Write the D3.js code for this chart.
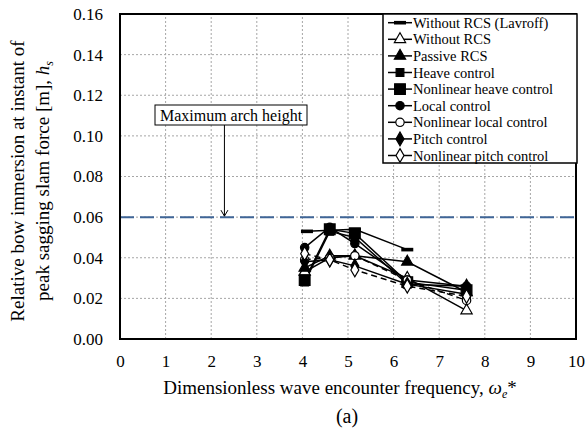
<!DOCTYPE html>
<html>
<head>
<meta charset="utf-8">
<script src="https://cdn.jsdelivr.net/npm/d3@7"></script>
<style>
  body { margin: 0; background: #fff; }
  svg text { font-family: "Liberation Serif", "Times New Roman", serif; fill: #000; }
</style>
</head>
<body>
<div id="chart"></div>
<script>
// data
var freqs = [4.05, 4.6, 5.15, 6.3, 7.6];
var lavroffFreqs = [4.1, 5.15, 6.3];
var lavroff = [0.053, 0.054, 0.044];
var withoutRCS = [0.033, 0.040, 0.041, 0.030, 0.014];
var passiveRCS = [0.035, 0.041, 0.041, 0.038, 0.023];
var heaveControl = [0.028, 0.053, 0.050, 0.027, 0.022];
var nlHeaveControl = [0.029, 0.054, 0.052, 0.028, 0.024];
var localControl = [0.045, 0.055, 0.047, 0.029, 0.026];
var nlLocalControl = [0.039, 0.040, 0.041, 0.029, 0.019];
var pitchControl = [0.038, 0.039, 0.036, 0.027, 0.026];
var nlPitchControl = [0.042, 0.039, 0.034, 0.026, 0.021];
var archHeight = 0.06;
var xTicks = [0, 1, 2, 3, 4, 5, 6, 7, 8, 9, 10];
var yTicks = [0, 0.02, 0.04, 0.06, 0.08, 0.10, 0.12, 0.14, 0.16];

var series = [
  { name: "Without RCS (Lavroff)", x: lavroffFreqs, y: lavroff, shape: "bar", fill: "#000", dash: null },
  { name: "Without RCS", x: freqs, y: withoutRCS, shape: d3.symbolTriangle, size: 55, fill: "#fff", dash: null },
  { name: "Passive RCS", x: freqs, y: passiveRCS, shape: d3.symbolTriangle, size: 55, fill: "#000", dash: null },
  { name: "Heave control", x: freqs, y: heaveControl, shape: d3.symbolSquare, size: 60, fill: "#000", dash: null },
  { name: "Nonlinear heave control", x: freqs, y: nlHeaveControl, shape: d3.symbolSquare, size: 115, fill: "#000", dash: null },
  { name: "Local control", x: freqs, y: localControl, shape: d3.symbolCircle, size: 55, fill: "#000", dash: null },
  { name: "Nonlinear local control", x: freqs, y: nlLocalControl, shape: d3.symbolCircle, size: 55, fill: "#fff", dash: "6,4" },
  { name: "Pitch control", x: freqs, y: pitchControl, shape: d3.symbolDiamond, size: 55, fill: "#000", dash: null },
  { name: "Nonlinear pitch control", x: freqs, y: nlPitchControl, shape: d3.symbolDiamond, size: 55, fill: "#fff", dash: "6,4" }
];

var width = 587, height = 434;
var margin = { top: 14, right: 11, bottom: 95, left: 120 };
var iw = width - margin.left - margin.right;
var ih = height - margin.top - margin.bottom;

var svg = d3.select("#chart").append("svg")
  .attr("width", width)
  .attr("height", height);

var x = d3.scaleLinear().domain([0, 10]).range([margin.left, margin.left + iw]);
var y = d3.scaleLinear().domain([0, 0.16]).range([margin.top + ih, margin.top]);

// grid
svg.append("g").selectAll("line.vg")
  .data(xTicks.slice(1, -1))
  .enter().append("line")
  .attr("x1", function(d) { return x(d); })
  .attr("x2", function(d) { return x(d); })
  .attr("y1", y(0)).attr("y2", y(0.16))
  .attr("stroke", "#a6a6a6").attr("stroke-width", 1).attr("stroke-dasharray", "2,2");

svg.append("g").selectAll("line.hg")
  .data(yTicks.slice(1, -1))
  .enter().append("line")
  .attr("y1", function(d) { return y(d); })
  .attr("y2", function(d) { return y(d); })
  .attr("x1", x(0)).attr("x2", x(10))
  .attr("stroke", "#a6a6a6").attr("stroke-width", 1).attr("stroke-dasharray", "2,2");

// axes
var xAxis = svg.append("g")
  .attr("transform", "translate(0," + y(0) + ")")
  .call(d3.axisBottom(x).tickValues(xTicks).tickSize(0).tickPadding(16));
xAxis.attr("font-family", null).attr("font-size", null);
xAxis.select(".domain").remove();
xAxis.selectAll("text").style("font-size", "17px");

var yAxis = svg.append("g")
  .attr("transform", "translate(" + x(0) + ",0)")
  .call(d3.axisLeft(y).tickValues(yTicks).tickFormat(d3.format(".2f")).tickSize(0).tickPadding(17));
yAxis.attr("font-family", null).attr("font-size", null);
yAxis.select(".domain").remove();
yAxis.selectAll("text").style("font-size", "17px");

// maximum arch height line
svg.append("line")
  .attr("x1", x(0)).attr("x2", x(10))
  .attr("y1", y(archHeight)).attr("y2", y(archHeight))
  .attr("stroke", "#3f6596").attr("stroke-width", 2).attr("stroke-dasharray", "14,6");

// series lines
var line = d3.line()
  .x(function(d) { return x(d[0]); })
  .y(function(d) { return y(d[1]); });

series.forEach(function(s) {
  var pts = s.x.map(function(v, i) { return [v, s.y[i]]; });
  svg.append("path")
    .attr("d", line(pts))
    .attr("fill", "none")
    .attr("stroke", "#000")
    .attr("stroke-width", 1.5)
    .attr("stroke-dasharray", s.dash);
});

function drawMarker(g, s, cx, cy) {
  if (s.shape === "bar") {
    g.append("rect")
      .attr("x", cx - 6).attr("y", cy - 1.8)
      .attr("width", 12).attr("height", 3.6)
      .attr("fill", "#000");
  } else {
    g.append("path")
      .attr("d", d3.symbol().type(s.shape).size(s.size)())
      .attr("transform", "translate(" + cx + "," + cy + ")")
      .attr("fill", s.fill)
      .attr("stroke", "#000")
      .attr("stroke-width", 1.2);
  }
}

series.forEach(function(s) {
  var g = svg.append("g");
  s.x.forEach(function(v, i) { drawMarker(g, s, x(v), y(s.y[i])); });
});

// plot border
svg.append("rect")
  .attr("x", x(0)).attr("y", y(0.16))
  .attr("width", x(10) - x(0)).attr("height", y(0) - y(0.16))
  .attr("fill", "none").attr("stroke", "#000").attr("stroke-width", 2);

// annotation
var arrowX = x(2.29);
svg.append("rect")
  .attr("x", 155).attr("y", 105).attr("width", 152).attr("height", 20)
  .attr("fill", "#fff").attr("stroke", "#000").attr("stroke-width", 1);
svg.append("text")
  .attr("x", 231).attr("y", 120.5)
  .attr("text-anchor", "middle")
  .style("font-size", "16px")
  .text("Maximum arch height");
svg.append("line")
  .attr("x1", arrowX).attr("x2", arrowX)
  .attr("y1", 125).attr("y2", y(archHeight) - 1)
  .attr("stroke", "#000").attr("stroke-width", 1);
svg.append("path")
  .attr("d", "M" + (arrowX - 3.5) + "," + (y(archHeight) - 7) + "L" + arrowX + "," + (y(archHeight) - 1) + "L" + (arrowX + 3.5) + "," + (y(archHeight) - 7))
  .attr("fill", "none").attr("stroke", "#000").attr("stroke-width", 1);

// legend
var legend = svg.append("g");
legend.append("rect")
  .attr("x", 383).attr("y", 14).attr("width", 194).attr("height", 149)
  .attr("fill", "#fff").attr("stroke", "#000").attr("stroke-width", 1.5);

series.forEach(function(s, i) {
  var cy = 22.7 + 16.6 * i;
  var row = legend.append("g");
  row.append("line")
    .attr("x1", 388).attr("x2", 412)
    .attr("y1", cy).attr("y2", cy)
    .attr("stroke", "#000").attr("stroke-width", 1.5);
  drawMarker(row, s, 400, cy);
  row.append("text")
    .attr("x", 413).attr("y", cy + 5)
    .style("font-size", "14.5px")
    .text(s.name);
});

// axis titles
var yTitle = svg.append("text")
  .attr("transform", "translate(0," + 181 + ") rotate(-90)")
  .attr("text-anchor", "middle")
  .style("font-size", "19px");
yTitle.append("tspan").attr("x", 0).attr("y", 24).text("Relative bow immersion at instant of");
var t2 = yTitle.append("tspan").attr("x", 0).attr("y", 49);
t2.append("tspan").text("peak sagging slam force [m], ");
t2.append("tspan").style("font-style", "italic").text("h");
t2.append("tspan").attr("dy", 4).style("font-size", "12px").style("font-style", "italic").text("s");

var xTitle = svg.append("text")
  .attr("x", 340).attr("y", 394)
  .attr("text-anchor", "middle")
  .style("font-size", "19px");
xTitle.append("tspan").text("Dimensionless wave encounter frequency, ");
xTitle.append("tspan").style("font-style", "italic").text("ω");
xTitle.append("tspan").attr("dy", 4).style("font-size", "12px").style("font-style", "italic").text("e");
xTitle.append("tspan").attr("dy", -4).text("*");

svg.append("text")
  .attr("x", 347).attr("y", 423)
  .attr("text-anchor", "middle")
  .style("font-size", "20px")
  .text("(a)");
</script>
</body>
</html>
